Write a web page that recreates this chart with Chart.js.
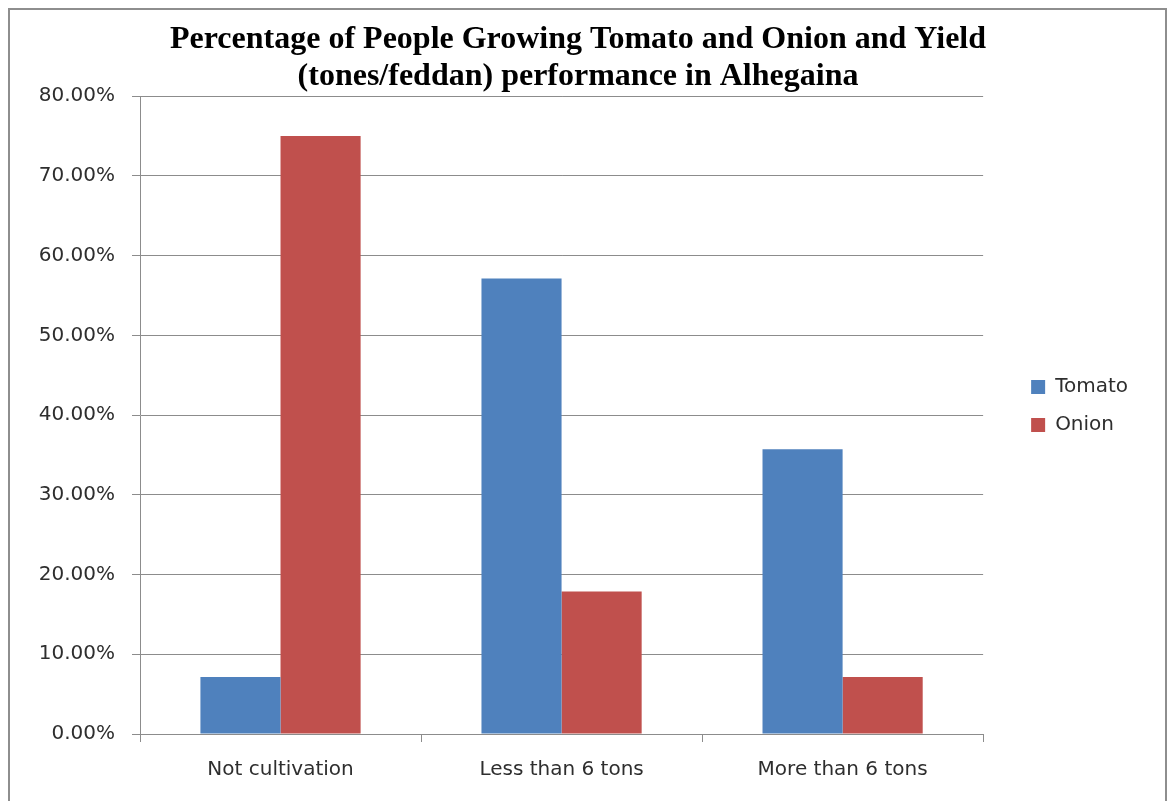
<!DOCTYPE html>
<html>
<head>
<meta charset="utf-8">
<script src="https://cdn.jsdelivr.net/npm/chart.js@4.4.1/dist/chart.umd.min.js"></script>
<style>
    html, body { margin: 0; padding: 0; background: #ffffff; overflow: hidden; }
    #wrap {
        position: absolute;
        left: 8px;
        top: 8px;
        width: 1159px;
        height: 810px;
        box-sizing: border-box;
        border: 2px solid #8e8e8e;
        background: #ffffff;
    }
    #chart { display: block; }
</style>
</head>
<body>
<div id="wrap"><canvas id="chart" width="1155" height="806"></canvas></div>
<script>
const categories = ['Not cultivation', 'Less than 6 tons', 'More than 6 tons'];
const tomatoValues = [7.14, 57.14, 35.71];
const onionValues = [75.0, 17.86, 7.14];
const seriesNames = ['Tomato', 'Onion'];
const titleLines = [
    'Percentage of People Growing Tomato and Onion and Yield',
    '(tones/feddan) performance in Alhegaina'
];

const labelFont = { family: '"DejaVu Sans", sans-serif', size: 20 };
const textColor = '#2e2e2e';
const gridColor = '#8c8c8c';

new Chart(document.getElementById('chart'), {
    type: 'bar',
    data: {
        labels: categories,
        datasets: [
            {
                label: seriesNames[0],
                data: tomatoValues,
                backgroundColor: '#4f81bd',
                categoryPercentage: 0.57,
                barPercentage: 1.0,
            },
            {
                label: seriesNames[1],
                data: onionValues,
                backgroundColor: '#c0504d',
                categoryPercentage: 0.57,
                barPercentage: 1.0,
            },
        ],
    },
    options: {
        responsive: false,
        animation: false,
        layout: {
            padding: { left: 8, right: 27, top: 0, bottom: 14 },
        },
        scales: {
            x: {
                afterFit: (scale) => { scale.height = 68; },
                grid: {
                    display: true,
                    drawOnChartArea: false,
                    offset: true,
                    tickLength: 8,
                    color: gridColor,
                },
                border: { color: gridColor },
                ticks: {
                    color: textColor,
                    font: labelFont,
                    padding: 16,
                    maxRotation: 0,
                },
            },
            y: {
                min: 0,
                max: 80,
                afterFit: (scale) => { scale.width = 122; },
                grid: {
                    color: gridColor,
                    tickLength: 8,
                },
                border: { color: gridColor },
                ticks: {
                    stepSize: 10,
                    color: textColor,
                    font: labelFont,
                    padding: 17,
                    callback: (value) => `${value.toFixed(2)}%`,
                },
            },
            // empty spacer between the plot and the legend
            gap: {
                type: 'linear',
                position: 'right',
                display: true,
                afterFit: (scale) => { scale.width = 30; },
                grid: { display: false },
                border: { display: false },
                ticks: { display: false },
            },
        },
        plugins: {
            title: {
                display: true,
                text: titleLines,
                color: '#000000',
                font: { family: '"Liberation Serif", "Times New Roman", serif', size: 32, weight: 'bold', lineHeight: 1.16 },
                padding: { top: 11, bottom: 1 },
            },
            legend: {
                position: 'right',
                labels: {
                    color: textColor,
                    font: labelFont,
                    boxWidth: 14,
                    boxHeight: 14,
                    padding: 18,
                },
            },
            tooltip: { enabled: false },
        },
    },
});
</script>
</body>
</html>
